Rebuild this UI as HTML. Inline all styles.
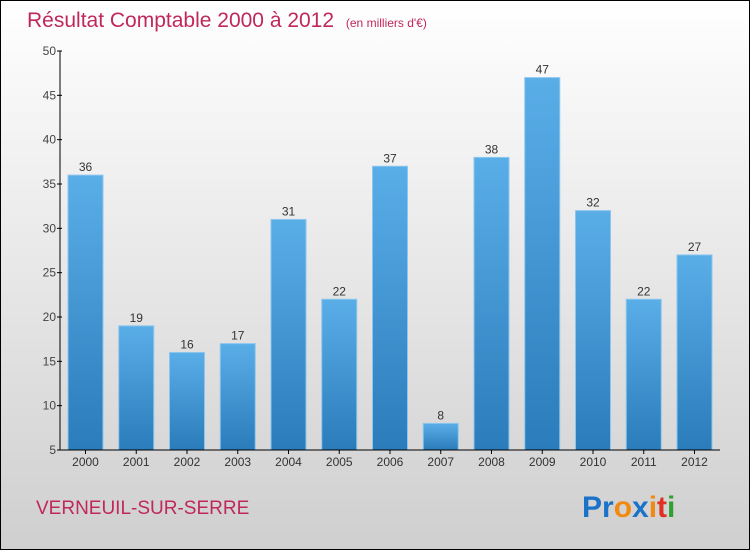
<!DOCTYPE html>
<html><head><meta charset="utf-8"><style>
body{margin:0;width:750px;height:550px;overflow:hidden;font-family:"Liberation Sans",sans-serif}
svg{display:block}
</style></head><body>
<svg id="c" width="750" height="550" xmlns="http://www.w3.org/2000/svg">
<defs>
<linearGradient id="bg" x1="0" y1="0" x2="0" y2="1"><stop offset="0" stop-color="#ffffff"/><stop offset="1" stop-color="#cfcfcf"/></linearGradient>
<linearGradient id="bar" x1="0" y1="0" x2="0" y2="1"><stop offset="0" stop-color="#5aaee8"/><stop offset="1" stop-color="#2a7cba"/></linearGradient>
</defs>
<rect x="0.5" y="0.5" width="749" height="549" fill="url(#bg)" stroke="#000"/>
<text x="27" y="27" font-size="21" fill="#c0285a">Résultat Comptable 2000 à 2012 <tspan font-size="12" dx="6">(en milliers d'€)</tspan></text>
<g id="plot"></g>
<text x="36" y="514" font-size="19" fill="#c0285a">VERNEUIL-SUR-SERRE</text>
<g font-size="30" font-weight="bold" font-family="Liberation Sans, sans-serif">
<text x="582" y="517"><tspan fill="#1a73c8">Pr</tspan><tspan fill="#f08a10">o</tspan><tspan fill="#1a73c8">x</tspan><tspan fill="#f08a10">i</tspan><tspan fill="#e03020">t</tspan><tspan fill="#30a030">i</tspan></text>
</g>
</svg>
<script>
const categories=["2000","2001","2002","2003","2004","2005","2006","2007","2008","2009","2010","2011","2012"];
const values=[36,19,16,17,31,22,37,8,38,47,32,22,27];
const yTicks=[5,10,15,20,25,30,35,40,45,50];
const NS="http://www.w3.org/2000/svg";
const g=document.getElementById('plot');
const x0=60,x1=720,yTop=51,yBot=450,vMin=5,vMax=50;
const y=v=>yBot-(v-vMin)/(vMax-vMin)*(yBot-yTop);
const step=50.75,first=85.5,bw=35;
const xc=i=>first+i*step;
function mk(t,a){const e=document.createElementNS(NS,t);for(const k in a)e.setAttribute(k,a[k]);g.appendChild(e);return e;}
values.forEach((v,i)=>{
 const r=mk('rect',{x:xc(i)-bw/2,y:y(v),width:bw,height:yBot-y(v),fill:'url(#bar)',stroke:'#8cc6ee','stroke-width':1});
 
 
 const t=mk('text',{x:xc(i),y:y(v)-4,'text-anchor':'middle','font-size':12,fill:'#333'});
 t.textContent=v;
 
 
 const l=mk('text',{x:xc(i),y:466,'text-anchor':'middle','font-size':12,fill:'#333'});
 l.textContent=categories[i];
 
 
 const tk=mk('line',{x1:xc(i),x2:xc(i),y1:yBot,y2:yBot+4,stroke:'#000'});
 
 
});
yTicks.forEach(v=>{
 const t=mk('text',{x:x0-4,y:y(v)+4,'text-anchor':'end','font-size':12,fill:'#444'});
 t.textContent=v;
 
 
 const l=mk('line',{x1:x0-3,x2:x0+2,y1:y(v),y2:y(v),stroke:'#000'});
 
 
});
const ya=mk('line',{x1:x0,x2:x0,y1:yTop,y2:yBot,stroke:'#000'});


const xa=mk('line',{x1:x0,x2:x1,y1:yBot,y2:yBot,stroke:'#000'});


</script>
</body></html>
